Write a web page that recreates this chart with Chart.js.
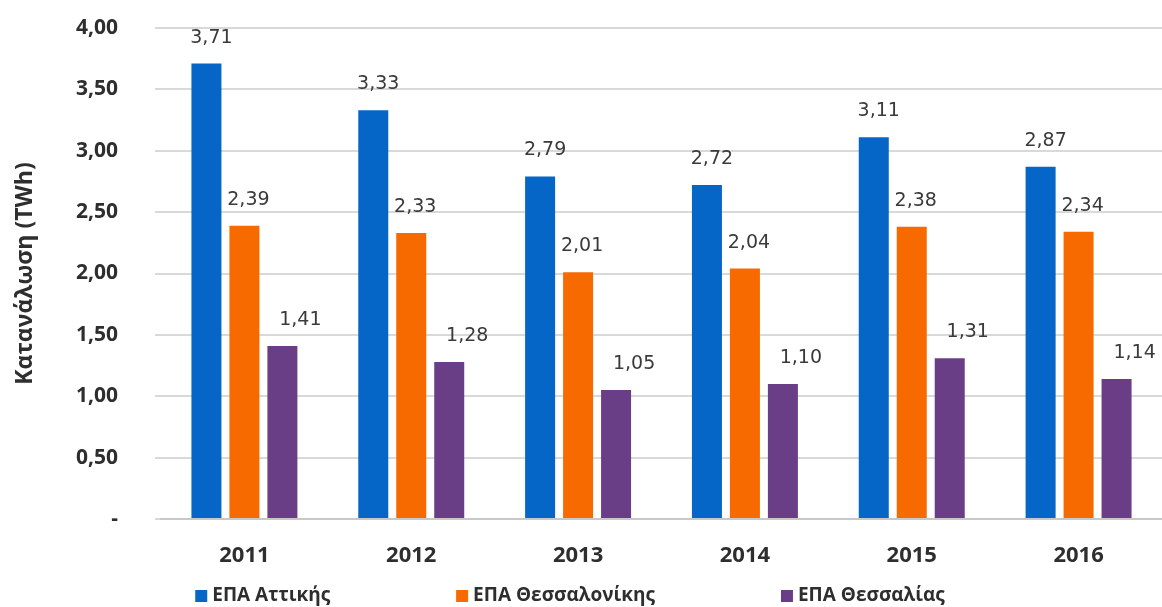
<!DOCTYPE html>
<html>
<head>
<meta charset="utf-8">
<script src="https://cdn.jsdelivr.net/npm/chart.js@4.4.1/dist/chart.umd.min.js"></script>
<style>
    body { margin: 0; background: #fff; }
    #wrap { width: 1162px; height: 607px; }
</style>
</head>
<body>
<div id="wrap"><canvas id="chart" width="1162" height="607"></canvas></div>
<script>
// Chart data
const years = ['2011', '2012', '2013', '2014', '2015', '2016'];
const seriesNames = ['ΕΠΑ Αττικής', 'ΕΠΑ Θεσσαλονίκης', 'ΕΠΑ Θεσσαλίας'];
const attiki = [3.71, 3.33, 2.79, 2.72, 3.11, 2.87];
const thessaloniki = [2.39, 2.33, 2.01, 2.04, 2.38, 2.34];
const thessalia = [1.41, 1.28, 1.05, 1.10, 1.31, 1.14];
const yMin = 0, yMax = 4, yStep = 0.5;

const colors = ['#0566c8', '#f66a00', '#6a3e86'];
const textColor = '#2e2e2e';
const labelColor = '#3a3a3a';

const fmt = v => v === 0 ? '-' : v.toFixed(2).replace('.', ',');

// Value labels above bars
const valueLabels = {
    id: 'valueLabels',
    afterDatasetsDraw(chart) {
        const ctx = chart.ctx;
        const shift = [5, 4, 18];
        ctx.save();
        ctx.font = '19px "DejaVu Sans"';
        ctx.fillStyle = labelColor;
        ctx.textAlign = 'center';
        ctx.textBaseline = 'middle';
        chart.data.datasets.forEach((ds, i) => {
            chart.getDatasetMeta(i).data.forEach((bar, j) => {
                ctx.fillText(fmt(ds.data[j]), bar.x + shift[i], bar.y - 26);
            });
        });
        ctx.restore();
    }
};

// Legend at bottom
const bottomLegend = {
    id: 'bottomLegend',
    afterDraw(chart) {
        const ctx = chart.ctx;
        const box = 12, gap = 5, spacing = 126;
        ctx.save();
        ctx.font = 'bold 19px "Open Sans"';
        ctx.textBaseline = 'middle';
        const widths = seriesNames.map(n => box + gap + ctx.measureText(n).width);
        const total = widths.reduce((a, b) => a + b, 0) + spacing * (widths.length - 1);
        let x = chart.width / 2 - 11 - total / 2;
        const y = 596;
        seriesNames.forEach((name, i) => {
            ctx.fillStyle = colors[i];
            ctx.fillRect(x, y - box / 2, box, box);
            ctx.fillStyle = textColor;
            ctx.fillText(name, x + box + gap, y);
            x += widths[i] + spacing;
        });
        ctx.restore();
    }
};

new Chart(document.getElementById('chart'), {
    type: 'bar',
    data: {
        labels: years,
        datasets: [attiki, thessaloniki, thessalia].map((d, i) => ({
            label: seriesNames[i],
            data: d,
            backgroundColor: colors[i],
            categoryPercentage: 0.683,
            barPercentage: 0.79
        }))
    },
    options: {
        responsive: false,
        animation: false,
        layout: { padding: { top: 28, right: 0, bottom: 0, left: 0 } },
        plugins: {
            legend: { display: false },
            tooltip: { enabled: false }
        },
        scales: {
            x: {
                grid: { display: false },
                border: { color: '#c8c8c8', width: 2 },
                ticks: {
                    color: textColor,
                    font: { family: 'Open Sans', weight: 'bold', size: 22 },
                    padding: 16
                },
                afterFit(scale) { scale.height = 88; }
            },
            y: {
                min: yMin,
                max: yMax,
                ticks: {
                    stepSize: yStep,
                    color: textColor,
                    font: { family: 'Open Sans', weight: 'bold', size: 21 },
                    padding: 37,
                    callback: v => fmt(v)
                },
                grid: { color: '#d9d9d9', lineWidth: 2, tickLength: 6 },
                border: { display: false },
                title: {
                    display: true,
                    text: 'Κατανάλωση (TWh)',
                    color: textColor,
                    font: { family: 'Open Sans', weight: 'bold', size: 23 },
                    padding: { top: 12, bottom: 0 }
                },
                afterFit(scale) {
                    scale.width = 161;
                    // tick padding would otherwise push the plot down
                    scale.paddingTop = 0;
                    scale.paddingBottom = 0;
                }
            }
        }
    },
    plugins: [valueLabels, bottomLegend]
});
</script>
</body>
</html>
